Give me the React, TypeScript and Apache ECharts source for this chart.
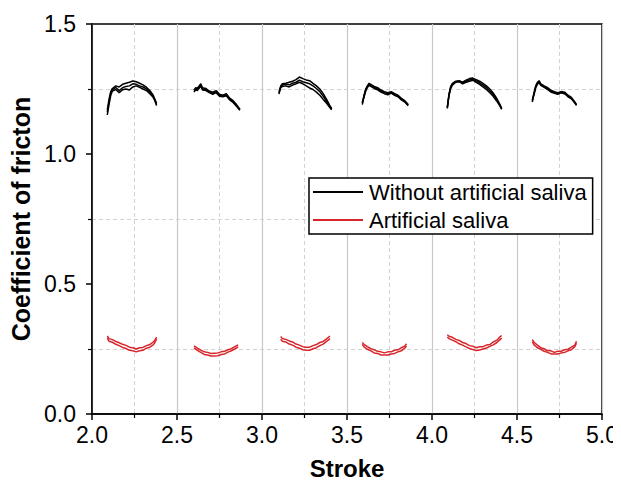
import React, { useEffect, useRef } from "react";
import * as echarts from "echarts";

const xTicks = [2.0, 2.5, 3.0, 3.5, 4.0, 4.5, 5.0];
const yTicks = [0.0, 0.5, 1.0, 1.5];
const seriesNames = ["Without artificial saliva", "Artificial saliva"];

// Black (without artificial saliva) — stroke positions per segment
const blackX1 = [2.09, 2.10, 2.11, 2.12, 2.14, 2.16, 2.18, 2.20, 2.22, 2.24, 2.26, 2.28, 2.30, 2.32, 2.34, 2.36, 2.37, 2.38];
const blackY1 = [
  [1.17, 1.21, 1.24, 1.252, 1.262, 1.258, 1.268, 1.272, 1.276, 1.281, 1.278, 1.272, 1.266, 1.257, 1.244, 1.226, 1.21, 1.195],
  [1.15, 1.19, 1.225, 1.242, 1.248, 1.236, 1.247, 1.25, 1.246, 1.258, 1.262, 1.256, 1.25, 1.244, 1.232, 1.218, 1.205, 1.19],
  [1.16, 1.2, 1.232, 1.248, 1.256, 1.244, 1.255, 1.26, 1.262, 1.27, 1.268, 1.262, 1.258, 1.25, 1.238, 1.22, 1.206, 1.186],
];
const blackX2 = [2.60, 2.61, 2.62, 2.63, 2.64, 2.65, 2.67, 2.69, 2.71, 2.73, 2.75, 2.77, 2.79, 2.81, 2.83, 2.85, 2.87];
const blackY2 = [
  [1.245, 1.255, 1.25, 1.262, 1.27, 1.255, 1.252, 1.242, 1.238, 1.244, 1.23, 1.226, 1.232, 1.215, 1.205, 1.19, 1.172],
  [1.238, 1.248, 1.244, 1.256, 1.26, 1.246, 1.244, 1.236, 1.23, 1.236, 1.222, 1.22, 1.224, 1.208, 1.198, 1.184, 1.168],
  [1.25, 1.244, 1.256, 1.252, 1.264, 1.25, 1.248, 1.238, 1.234, 1.24, 1.226, 1.222, 1.228, 1.212, 1.2, 1.186, 1.17],
];
const blackX3 = [3.10, 3.11, 3.12, 3.14, 3.16, 3.18, 3.20, 3.22, 3.24, 3.26, 3.28, 3.30, 3.32, 3.34, 3.36, 3.38, 3.40, 3.41];
const blackY3 = [
  [1.23, 1.262, 1.27, 1.272, 1.276, 1.28, 1.286, 1.296, 1.29, 1.285, 1.282, 1.272, 1.262, 1.25, 1.232, 1.21, 1.185, 1.175],
  [1.235, 1.255, 1.26, 1.262, 1.258, 1.265, 1.27, 1.276, 1.27, 1.262, 1.254, 1.248, 1.238, 1.226, 1.21, 1.195, 1.178, 1.17],
  [1.24, 1.258, 1.265, 1.268, 1.266, 1.272, 1.276, 1.284, 1.278, 1.274, 1.27, 1.262, 1.252, 1.24, 1.222, 1.202, 1.18, 1.172],
];
const blackX4 = [3.59, 3.60, 3.61, 3.62, 3.63, 3.64, 3.66, 3.68, 3.70, 3.72, 3.74, 3.76, 3.78, 3.80, 3.82, 3.84, 3.86];
const blackY4 = [
  [1.19, 1.225, 1.25, 1.262, 1.272, 1.268, 1.26, 1.255, 1.246, 1.24, 1.236, 1.24, 1.232, 1.226, 1.214, 1.205, 1.19],
  [1.2, 1.218, 1.242, 1.256, 1.264, 1.26, 1.252, 1.247, 1.238, 1.232, 1.228, 1.234, 1.226, 1.22, 1.208, 1.2, 1.186],
  [1.195, 1.222, 1.246, 1.26, 1.268, 1.262, 1.256, 1.25, 1.242, 1.236, 1.232, 1.237, 1.229, 1.223, 1.211, 1.202, 1.188],
];
const blackX5 = [4.09, 4.10, 4.11, 4.12, 4.14, 4.16, 4.18, 4.20, 4.22, 4.24, 4.26, 4.28, 4.30, 4.32, 4.34, 4.36, 4.38, 4.40, 4.41];
const blackY5 = [
  [1.175, 1.23, 1.26, 1.272, 1.28, 1.282, 1.276, 1.284, 1.29, 1.292, 1.286, 1.28, 1.272, 1.262, 1.25, 1.235, 1.215, 1.19, 1.175],
  [1.18, 1.225, 1.252, 1.265, 1.276, 1.278, 1.27, 1.276, 1.28, 1.284, 1.276, 1.268, 1.258, 1.248, 1.236, 1.222, 1.204, 1.184, 1.172],
  [1.178, 1.228, 1.256, 1.268, 1.278, 1.28, 1.273, 1.28, 1.285, 1.288, 1.281, 1.274, 1.265, 1.255, 1.243, 1.228, 1.21, 1.187, 1.174],
];
const blackX6 = [4.59, 4.60, 4.61, 4.62, 4.63, 4.64, 4.66, 4.68, 4.70, 4.72, 4.74, 4.76, 4.78, 4.80, 4.82, 4.84, 4.85];
const blackY6 = [
  [1.205, 1.235, 1.262, 1.276, 1.282, 1.27, 1.262, 1.255, 1.245, 1.24, 1.236, 1.24, 1.238, 1.226, 1.218, 1.2, 1.19],
  [1.21, 1.228, 1.255, 1.268, 1.274, 1.264, 1.256, 1.248, 1.238, 1.234, 1.23, 1.235, 1.232, 1.22, 1.212, 1.196, 1.187],
  [1.2, 1.232, 1.258, 1.272, 1.278, 1.267, 1.259, 1.252, 1.242, 1.237, 1.233, 1.238, 1.235, 1.223, 1.215, 1.198, 1.188],
];

// Red (artificial saliva)
const redX1 = [2.09, 2.10, 2.12, 2.14, 2.16, 2.18, 2.20, 2.22, 2.24, 2.26, 2.28, 2.30, 2.32, 2.34, 2.36, 2.37, 2.38];
const redY1 = [
  [0.3, 0.29, 0.286, 0.279, 0.274, 0.268, 0.264, 0.257, 0.255, 0.25, 0.255, 0.256, 0.263, 0.267, 0.277, 0.284, 0.296],
  [0.292, 0.28, 0.276, 0.268, 0.263, 0.256, 0.252, 0.245, 0.243, 0.239, 0.243, 0.245, 0.253, 0.257, 0.266, 0.275, 0.288],
];
const redX2 = [2.60, 2.62, 2.64, 2.66, 2.68, 2.70, 2.72, 2.74, 2.76, 2.78, 2.80, 2.82, 2.84, 2.86];
const redY2 = [
  [0.262, 0.253, 0.246, 0.239, 0.237, 0.233, 0.234, 0.235, 0.239, 0.241, 0.247, 0.251, 0.259, 0.266],
  [0.254, 0.245, 0.237, 0.229, 0.227, 0.223, 0.223, 0.224, 0.229, 0.231, 0.238, 0.243, 0.25, 0.258],
];
const redX3 = [3.11, 3.12, 3.14, 3.16, 3.18, 3.20, 3.22, 3.24, 3.26, 3.28, 3.30, 3.32, 3.34, 3.36, 3.38, 3.40];
const redY3 = [
  [0.298, 0.29, 0.287, 0.281, 0.277, 0.269, 0.265, 0.259, 0.257, 0.257, 0.263, 0.267, 0.275, 0.279, 0.289, 0.3],
  [0.288, 0.28, 0.277, 0.269, 0.265, 0.257, 0.253, 0.247, 0.245, 0.245, 0.251, 0.255, 0.263, 0.269, 0.279, 0.29],
];
const redX4 = [3.59, 3.60, 3.62, 3.64, 3.66, 3.68, 3.70, 3.72, 3.74, 3.76, 3.78, 3.80, 3.82, 3.84, 3.85];
const redY4 = [
  [0.275, 0.268, 0.259, 0.251, 0.247, 0.241, 0.239, 0.235, 0.239, 0.239, 0.245, 0.247, 0.255, 0.261, 0.27],
  [0.268, 0.258, 0.249, 0.243, 0.235, 0.233, 0.227, 0.227, 0.227, 0.231, 0.233, 0.239, 0.243, 0.253, 0.262],
];
const redX5 = [4.09, 4.10, 4.12, 4.14, 4.16, 4.18, 4.20, 4.22, 4.24, 4.26, 4.28, 4.30, 4.32, 4.34, 4.36, 4.38, 4.40, 4.41];
const redY5 = [
  [0.305, 0.299, 0.295, 0.287, 0.283, 0.275, 0.271, 0.263, 0.261, 0.255, 0.259, 0.259, 0.265, 0.267, 0.277, 0.283, 0.297, 0.302],
  [0.296, 0.29, 0.284, 0.278, 0.27, 0.265, 0.258, 0.252, 0.248, 0.244, 0.246, 0.25, 0.254, 0.26, 0.266, 0.274, 0.286, 0.292],
];
const redX6 = [4.59, 4.60, 4.62, 4.64, 4.66, 4.68, 4.70, 4.72, 4.74, 4.76, 4.78, 4.80, 4.82, 4.84, 4.85];
const redY6 = [
  [0.286, 0.276, 0.265, 0.255, 0.251, 0.243, 0.243, 0.237, 0.241, 0.241, 0.247, 0.249, 0.257, 0.265, 0.28],
  [0.278, 0.266, 0.255, 0.249, 0.241, 0.237, 0.231, 0.231, 0.231, 0.235, 0.237, 0.243, 0.247, 0.259, 0.272],
];

const blackSegments: [number[], number[][]][] = [
  [blackX1, blackY1], [blackX2, blackY2], [blackX3, blackY3],
  [blackX4, blackY4], [blackX5, blackY5], [blackX6, blackY6],
];
const redSegments: [number[], number[][]][] = [
  [redX1, redY1], [redX2, redY2], [redX3, redY3],
  [redX4, redY4], [redX5, redY5], [redX6, redY6],
];

const BLACK = "#000000";
const RED = "#d7262b";
const FONT = 'Arial, "Liberation Sans", sans-serif';

function buildSeries(segments: [number[], number[][]][], name: string, color: string) {
  const out: any[] = [];
  segments.forEach(([xs, traces]) => {
    traces.forEach((ys) => {
      out.push({
        type: "line",
        name,
        data: xs.map((x, i) => [x, ys[i]]),
        showSymbol: false,
        symbol: "none",
        lineStyle: { color, width: 1.5 },
        itemStyle: { color },
        z: 3,
      });
    });
  });
  return out;
}

export default function App() {
  const ref = useRef<HTMLDivElement>(null);
  useEffect(() => {
    if (!ref.current) return;
    const chart = echarts.init(ref.current, undefined, { renderer: "svg" });
    chart.setOption({
      animation: false,
      backgroundColor: "#ffffff",
      grid: {
        left: 92,
        right: 19,
        top: 24,
        bottom: 65,
        show: true,
        borderColor: "#000",
        borderWidth: 1.5,
        backgroundColor: "transparent",
      },
      legend: {
        data: seriesNames.map((n) => ({ name: n, icon: "rect" })),
        orient: "vertical",
        left: 309,
        top: 178,
        itemWidth: 50,
        itemHeight: 2,
        itemGap: 6,
        padding: [3, 6, 3, 4],
        borderColor: "#000",
        borderWidth: 1.5,
        backgroundColor: "#fff",
        textStyle: { fontFamily: FONT, fontSize: 22, color: "#000", padding: [0, 0, 0, 1] },
      },
      xAxis: {
        type: "value",
        min: xTicks[0],
        max: xTicks[xTicks.length - 1],
        interval: 0.5,
        name: "Stroke",
        nameLocation: "middle",
        nameGap: 42,
        nameTextStyle: { fontFamily: FONT, fontSize: 24, fontWeight: "bold", color: "#000" },
        axisLine: { show: true, onZero: false, lineStyle: { color: "#000", width: 1.5 } },
        axisTick: { show: true, inside: false, length: 6, lineStyle: { color: "#000", width: 1.5 } },
        minorTick: { show: true, splitNumber: 2, length: 4, lineStyle: { color: "#000", width: 1.2 } },
        splitLine: { show: true, lineStyle: { color: "#c8c8c8", width: 1.2 } },
        minorSplitLine: { show: true, lineStyle: { color: "#d2d2d2", width: 1, type: [4, 3] } },
        axisLabel: {
          fontFamily: FONT,
          fontSize: 23,
          color: "#000",
          margin: 9,
          formatter: (v: number) => v.toFixed(1),
        },
      },
      yAxis: {
        type: "value",
        min: yTicks[0],
        max: yTicks[yTicks.length - 1],
        interval: 0.5,
        name: "Coefficient of fricton",
        nameLocation: "middle",
        nameGap: 55,
        nameTextStyle: { fontFamily: FONT, fontSize: 25, fontWeight: "bold", color: "#000" },
        axisLine: { show: true, onZero: false, lineStyle: { color: "#000", width: 1.5 } },
        axisTick: { show: true, inside: false, length: 6, lineStyle: { color: "#000", width: 1.5 } },
        minorTick: { show: true, splitNumber: 2, length: 4, lineStyle: { color: "#000", width: 1.2 } },
        splitLine: { show: false },
        minorSplitLine: { show: true, lineStyle: { color: "#d2d2d2", width: 1, type: [4, 3] } },
        axisLabel: {
          fontFamily: FONT,
          fontSize: 23,
          color: "#000",
          margin: 16,
          formatter: (v: number) => v.toFixed(1),
        },
      },
      series: [
        ...buildSeries(blackSegments, seriesNames[0], BLACK),
        ...buildSeries(redSegments, seriesNames[1], RED),
      ],
    });
    return () => chart.dispose();
  }, []);
  return <div ref={ref} style={{ width: 621, height: 485, margin: -8 }} />;
}
